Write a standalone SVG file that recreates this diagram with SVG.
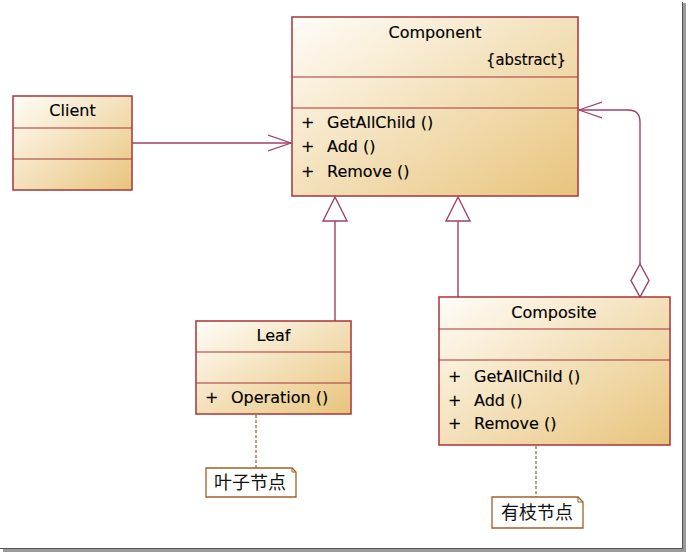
<svg xmlns="http://www.w3.org/2000/svg" width="686" height="552" viewBox="0 0 686 552">
<defs>
<linearGradient id="g" x1="0" y1="0" x2="1" y2="1">
<stop offset="0" stop-color="#fffdf8"/>
<stop offset="1" stop-color="#e8c47c"/>
</linearGradient>
<marker id="open" viewBox="0 0 24 18" refX="23" refY="9" markerWidth="24" markerHeight="18" markerUnits="userSpaceOnUse" orient="auto">
<path d="M0,1 L23,9 L0,17" fill="none" stroke="#a0406a" stroke-width="1.3"/>
</marker>
</defs>
<style>
.box{fill:url(#g);stroke:#a8343a;stroke-width:1.5}
.div{stroke:#a8343a;stroke-width:1.2}
.t{font-family:"DejaVu Sans","Liberation Sans",sans-serif;font-size:16px;fill:#000;stroke:#000;stroke-width:0.15}
.c{text-anchor:middle}
.con{fill:none;stroke:#a0406a;stroke-width:1.4}
.note{fill:#fff;stroke:#a0602a;stroke-width:1.3}
.dash{fill:none;stroke:#a0602a;stroke-width:1.2;stroke-dasharray:3,2}
.cjk{font-family:"Noto Sans CJK SC",sans-serif;font-size:18px;fill:#111;text-anchor:middle}
</style>
<rect width="686" height="552" fill="#fff"/>
<g id="frame">
<rect x="683" y="3" width="3" height="549" fill="#9a9a9a"/>
<rect x="3" y="549" width="683" height="3" fill="#9a9a9a"/>
<line x1="682.5" y1="2" x2="682.5" y2="548.5" stroke="#555" stroke-width="1"/>
<line x1="0" y1="548.5" x2="683" y2="548.5" stroke="#555" stroke-width="1"/>
</g>
<g id="connectors">
<line class="con" x1="132" y1="143" x2="291" y2="143" marker-end="url(#open)"/>
<line class="con" x1="335" y1="321" x2="335" y2="221"/>
<path class="con" d="M335,197 L347,221 L323,221 Z" fill="#fff"/>
<line class="con" x1="458" y1="297" x2="458" y2="221"/>
<path class="con" d="M458,197 L470,221 L446,221 Z" fill="#fff"/>
<path class="con" d="M640,264 L640,122 Q640,110 628,110 L579,110" marker-end="url(#open)"/>
<path class="con" d="M640,264 L649,280.5 L640,297 L631,280.5 Z" fill="#fff"/>
<line class="dash" x1="256" y1="415" x2="256" y2="468"/>
<line class="dash" x1="536" y1="446" x2="536" y2="497"/>
</g>
<g id="Component">
<rect class="box" x="292" y="17" width="286" height="179"/>
<line class="div" x1="292" y1="77" x2="578" y2="77"/>
<line class="div" x1="292" y1="108" x2="578" y2="108"/>
<text class="t c" x="435" y="38">Component</text>
<text class="t" x="566" y="65" text-anchor="end" textLength="80" lengthAdjust="spacingAndGlyphs">{abstract}</text>
<text class="t" x="301" y="128">+</text><text class="t" x="327" y="128">GetAllChild ()</text>
<text class="t" x="301" y="152">+</text><text class="t" x="327" y="152">Add ()</text>
<text class="t" x="301" y="177">+</text><text class="t" x="327" y="177">Remove ()</text>
</g>
<g id="Client">
<rect class="box" x="13" y="96" width="119" height="94"/>
<line class="div" x1="13" y1="128" x2="132" y2="128"/>
<line class="div" x1="13" y1="159" x2="132" y2="159"/>
<text class="t c" x="72.5" y="116">Client</text>
</g>
<g id="Leaf">
<rect class="box" x="196" y="321" width="155" height="93"/>
<line class="div" x1="196" y1="352" x2="351" y2="352"/>
<line class="div" x1="196" y1="383" x2="351" y2="383"/>
<text class="t c" x="273.5" y="341">Leaf</text>
<text class="t" x="205" y="403">+</text><text class="t" x="231" y="403">Operation ()</text>
</g>
<g id="Composite">
<rect class="box" x="439" y="297" width="231" height="148"/>
<line class="div" x1="439" y1="329" x2="670" y2="329"/>
<line class="div" x1="439" y1="360" x2="670" y2="360"/>
<text class="t c" x="554" y="318">Composite</text>
<text class="t" x="448" y="382">+</text><text class="t" x="474" y="382">GetAllChild ()</text>
<text class="t" x="448" y="406">+</text><text class="t" x="474" y="406">Add ()</text>
<text class="t" x="448" y="429">+</text><text class="t" x="474" y="429">Remove ()</text>
</g>
<g id="note-leaf">
<path class="note" d="M206,468 L292,468 L296,472 L296,497 L206,497 Z"/>
<path d="M292,468 L292,472 L296,472" fill="none" stroke="#a0602a" stroke-width="1"/>
<text class="cjk" x="250" y="489">叶子节点</text>
</g>
<g id="note-composite">
<path class="note" d="M492,497 L578,497 L583,502 L583,528 L492,528 Z"/>
<path d="M578,497 L578,502 L583,502" fill="none" stroke="#a0602a" stroke-width="1"/>
<text class="cjk" x="537" y="519">有枝节点</text>
</g>
</svg>
